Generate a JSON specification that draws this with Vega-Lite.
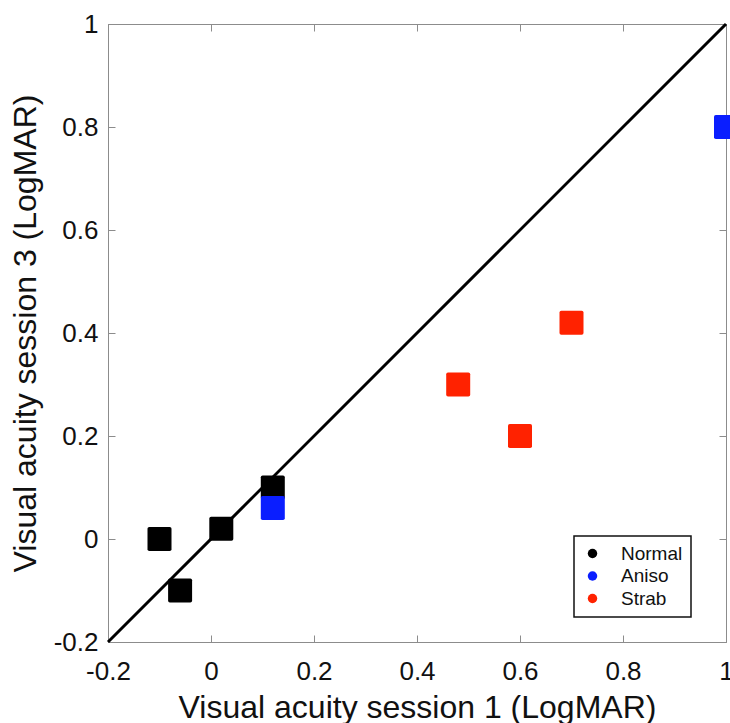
{
  "$schema": "https://vega.github.io/schema/vega-lite/v6.json",
  "width": 618,
  "height": 618,
  "autosize": {"type": "none"},
  "padding": {"left": 108, "top": 24, "right": 4, "bottom": 81},
  "background": "white",
  "config": {
    "font": "Liberation Sans",
    "view": {"stroke": "#8c8c8c", "strokeWidth": 1},
    "axis": {
      "grid": false,
      "domainColor": "#8c8c8c",
      "tickColor": "#8c8c8c",
      "tickSize": -7,
      "tickWidth": 1,
      "labelColor": "#111111",
      "titleColor": "#111111",
      "labelFont": "Liberation Sans",
      "titleFont": "Liberation Sans",
      "labelFontWeight": "normal",
      "titleFontWeight": "normal",
      "labelFontSize": 26,
      "titleFontSize": 32,
      "labelFlush": false,
      "labelOverlap": false,
      "labelBound": false
    },
    "legend": {
      "strokeColor": "#111111",
      "strokeWidth": 1.5,
      "fillColor": "white",
      "padding": 8,
      "symbolType": "circle",
      "symbolSize": 90,
      "symbolStrokeWidth": 0,
      "symbolOffset": 1,
      "labelFont": "Liberation Sans",
      "labelFontSize": 19,
      "labelColor": "#111111",
      "labelOffset": 19,
      "rowPadding": 2.5
    }
  },
  "datasets": {
    "acuity": [
      {"session1": -0.1, "session3": 0.0, "group": "Normal"},
      {"session1": -0.06, "session3": -0.1, "group": "Normal"},
      {"session1": 0.02, "session3": 0.02, "group": "Normal"},
      {"session1": 0.12, "session3": 0.1, "group": "Normal"},
      {"session1": 0.12, "session3": 0.06, "group": "Aniso"},
      {"session1": 1.0, "session3": 0.8, "group": "Aniso"},
      {"session1": 0.48, "session3": 0.3, "group": "Strab"},
      {"session1": 0.6, "session3": 0.2, "group": "Strab"},
      {"session1": 0.7, "session3": 0.42, "group": "Strab"}
    ],
    "identity": [
      {"session1": -0.2, "session3": -0.2},
      {"session1": 1.0, "session3": 1.0}
    ]
  },
  "layer": [
    {
      "data": {"name": "identity"},
      "mark": {"type": "line", "color": "black", "strokeWidth": 3},
      "encoding": {
        "x": {
          "field": "session1",
          "type": "quantitative",
          "scale": {"domain": [-0.2, 1], "nice": false, "zero": false},
          "axis": {
            "orient": "bottom",
            "values": [-0.2, 0, 0.2, 0.4, 0.6, 0.8, 1],
            "labelExpr": "datum.value < 0 ? '-' + format(-datum.value, '~g') : format(datum.value, '~g')",
            "labelPadding": 23,
            "title": "Visual acuity session 1 (LogMAR)",
            "titleX": 309,
            "titleY": 75,
            "titleAlign": "center",
            "titleBaseline": "alphabetic",
            "titleAngle": 0
          }
        },
        "y": {
          "field": "session3",
          "type": "quantitative",
          "scale": {"domain": [-0.2, 1], "nice": false, "zero": false},
          "axis": {
            "orient": "left",
            "values": [-0.2, 0, 0.2, 0.4, 0.6, 0.8, 1],
            "labelExpr": "datum.value < 0 ? '-' + format(-datum.value, '~g') : format(datum.value, '~g')",
            "labelPadding": 17,
            "title": "Visual acuity session 3 (LogMAR)",
            "titleX": -73,
            "titleY": 309,
            "titleAlign": "center",
            "titleBaseline": "alphabetic",
            "titleAngle": 270
          }
        }
      }
    },
    {
      "data": {"name": "acuity"},
      "mark": {
        "type": "point",
        "shape": "M -0.85 -1 L 0.85 -1 Q 1 -1 1 -0.85 L 1 0.85 Q 1 1 0.85 1 L -0.85 1 Q -1 1 -1 0.85 L -1 -0.85 Q -1 -1 -0.85 -1 Z",
        "filled": true,
        "opacity": 1,
        "size": 576
      },
      "encoding": {
        "x": {
          "field": "session1",
          "type": "quantitative",
          "axis": {
            "orient": "top",
            "values": [-0.2, 0, 0.2, 0.4, 0.6, 0.8, 1],
            "labels": false,
            "domain": false,
            "title": null
          }
        },
        "y": {
          "field": "session3",
          "type": "quantitative",
          "axis": {
            "orient": "right",
            "values": [-0.2, 0, 0.2, 0.4, 0.6, 0.8, 1],
            "labels": false,
            "domain": false,
            "title": null
          }
        },
        "color": {
          "field": "group",
          "type": "nominal",
          "scale": {
            "domain": ["Normal", "Aniso", "Strab"],
            "range": ["#000000", "#0a1eff", "#ff2200"]
          },
          "legend": {
            "orient": "none",
            "legendX": 466,
            "legendY": 512,
            "title": null,
            "symbolType": "circle",
            "labelExpr": "datum.label + '\u00a0\u00a0\u00a0'"
          }
        }
      }
    }
  ],
  "resolve": {"axis": {"x": "independent", "y": "independent"}}
}
